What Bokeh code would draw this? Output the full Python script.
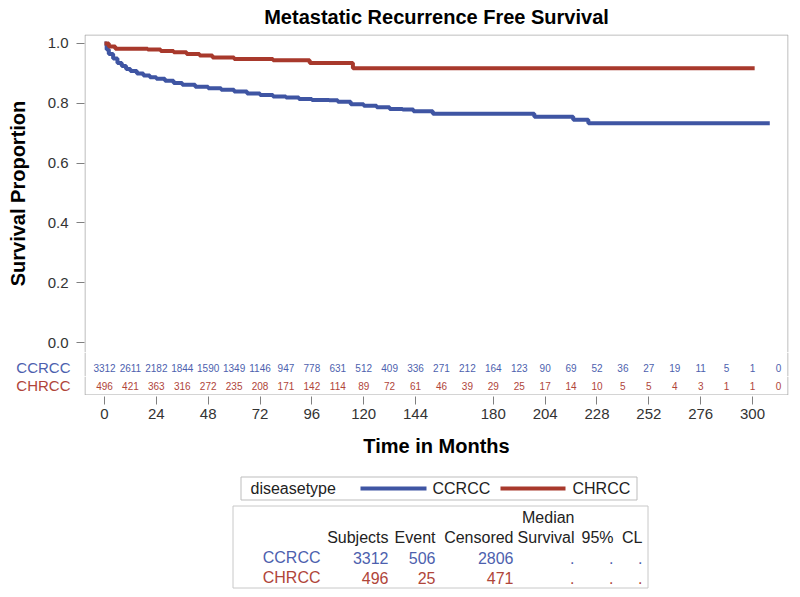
from bokeh.plotting import figure
from bokeh.models import Range1d, FixedTicker, NumeralTickFormatter
from bokeh.layouts import column
from bokeh.embed import file_html
from bokeh.resources import INLINE
from bokeh.core.properties import value

# ---------------- data ----------------
ccrcc_t = [0, 1, 2, 4, 6, 8, 10, 12, 15, 18, 21, 24, 28, 32, 36, 42, 48, 54, 60, 66,
           72, 78, 84, 90, 96, 104, 108, 114, 120, 126, 132, 138, 143, 152, 199, 217, 224, 308]
ccrcc_s = [1.0, 0.98, 0.965, 0.95, 0.935, 0.925, 0.915, 0.908, 0.90, 0.893, 0.887, 0.882,
           0.875, 0.868, 0.862, 0.855, 0.850, 0.845, 0.839, 0.833, 0.828, 0.823, 0.819,
           0.814, 0.811, 0.810, 0.805, 0.797, 0.792, 0.787, 0.781, 0.779, 0.773, 0.765,
           0.755, 0.745, 0.733, 0.733]
chrcc_t = [0, 2, 5, 20, 26, 32, 38, 44, 50, 60, 78, 95, 115, 301]
chrcc_s = [1.0, 0.99, 0.982, 0.98, 0.975, 0.971, 0.965, 0.960, 0.953, 0.948, 0.944,
           0.935, 0.917, 0.917]

risk_times = [0, 12, 24, 36, 48, 60, 72, 84, 96, 108, 120, 132, 144, 156, 168, 180,
              192, 204, 216, 228, 240, 252, 264, 276, 288, 300, 312]
ccrcc_risk = [3312, 2611, 2182, 1844, 1590, 1349, 1146, 947, 778, 631, 512, 409, 336,
              271, 212, 164, 123, 90, 69, 52, 36, 27, 19, 11, 5, 1, 0]
chrcc_risk = [496, 421, 363, 316, 272, 235, 208, 171, 142, 114, 89, 72, 61, 46, 39, 29,
              25, 17, 14, 10, 5, 5, 4, 3, 1, 1, 0]

x_ticks = [0, 24, 48, 72, 96, 120, 144, 180, 204, 228, 252, 276, 300]
y_ticks = [0.0, 0.2, 0.4, 0.6, 0.8, 1.0]

groups = ["CCRCC", "CHRCC"]
subjects = [3312, 496]
events = [506, 25]
censored = [2806, 471]
median_surv = [".", "."]
cl_low = [".", "."]
cl_high = [".", "."]

# ---------------- style / layout geometry ----------------
FONT_NAME = "Liberation Sans"
FONT = value(FONT_NAME)
BLUE = "#3F55A3"
RED = "#A8392C"
BLUE_T = "#4D5FAE"
RED_T = "#B0453A"
GRAY = "#A8A8A8"
TXT = "#222222"

W = 792
PX = 2.16          # pixels per month
X0_PX = 104        # pixel of t = 0
PY = 300.0         # pixels per unit of survival
Y0_PX = 342        # pixel of survival = 0
FRAME_L, FRAME_R, FRAME_T, FRAME_B = 84, 788, 33, 395
SPLIT = 352        # curve panel ends here
ROW_SPLIT = 376    # between the two at-risk rows
ROW1_PX, ROW2_PX = 367, 385


def t_at(px):
    return (px - X0_PX) / PX


def s_at(py):
    return (Y0_PX - py) / PY


def base_fig(height, **kw):
    f = figure(width=W, height=height, output_backend="svg", toolbar_location=None,
               min_border_left=FRAME_L, min_border_right=W - FRAME_R, **kw)
    f.outline_line_color = None
    f.xgrid.visible = False
    f.ygrid.visible = False
    return f


X_RANGE = (t_at(FRAME_L), t_at(FRAME_R))
lx, rx = t_at(FRAME_L + 0.5), t_at(FRAME_R - 0.5)

# ---------------- A: curves ----------------
pa = base_fig(SPLIT, x_axis_type=None,
              x_range=Range1d(*X_RANGE),
              y_range=Range1d(s_at(SPLIT), s_at(FRAME_T)),
              min_border_top=FRAME_T, min_border_bottom=0)
pa.title.text = "Metastatic Recurrence Free Survival"
pa.title.align = "center"
pa.title.vertical_align = "top"
pa.title.text_font = FONT_NAME
pa.title.text_font_size = "20px"
pa.title.text_font_style = "bold"
pa.title.text_color = "#000000"
pa.title.standoff = 10

ya = pa.yaxis[0]
ya.ticker = FixedTicker(ticks=y_ticks)
ya.formatter = NumeralTickFormatter(format="0.0")
ya.axis_line_color = None
ya.major_tick_line_color = "#808080"
ya.major_tick_out = 8
ya.major_tick_in = 0
ya.minor_tick_line_color = None
ya.major_label_text_font = FONT_NAME
ya.major_label_text_font_size = "15px"
ya.major_label_text_color = "#333333"
ya.major_label_standoff = 8
ya.axis_label = "Survival Proportion"
ya.axis_label_text_font = FONT_NAME
ya.axis_label_text_font_size = "20px"
ya.axis_label_text_font_style = "bold"
ya.axis_label_text_color = "#000000"
ya.axis_label_standoff = 16

ty = s_at(FRAME_T + 0.5)
pa.line([lx, lx, rx, rx], [s_at(SPLIT), ty, ty, s_at(SPLIT)], line_color=GRAY, line_width=1)

pa.step(ccrcc_t, ccrcc_s, mode="after", line_width=4, line_color=BLUE)
pa.step(chrcc_t, chrcc_s, mode="after", line_width=4, line_color=RED)


# ---------------- B: number at risk (one strip per group) ----------------
def risk_strip(top, bottom, row_px, counts, name, color, last):
    f = base_fig(bottom - top, x_axis_type=None,
                 x_range=Range1d(*X_RANGE), y_range=Range1d(bottom, top),
                 min_border_top=0, min_border_bottom=0)
    ax = f.yaxis[0]
    ax.ticker = FixedTicker(ticks=[row_px])
    ax.major_label_overrides = {row_px: name}
    ax.axis_line_color = None
    ax.major_tick_line_color = None
    ax.minor_tick_line_color = None
    ax.major_tick_out = 0
    ax.major_tick_in = 0
    ax.major_label_standoff = 14
    ax.major_label_text_font = FONT_NAME
    ax.major_label_text_font_size = "15px"
    ax.major_label_text_color = color
    f.text(x=risk_times, y=[row_px] * len(risk_times), text=[str(v) for v in counts],
           text_align="center", text_baseline="middle", text_font=FONT,
           text_font_size="10px", text_color=color)
    if last:
        yb = bottom - 0.5
        f.line([lx, lx, rx, rx], [top, yb, yb, top], line_color=GRAY, line_width=1)
    else:
        f.segment(x0=[lx, rx], y0=[top, top], x1=[lx, rx], y1=[bottom, bottom],
                  line_color=GRAY, line_width=1)
    return f


pb1 = risk_strip(SPLIT, ROW_SPLIT, ROW1_PX, ccrcc_risk, groups[0], BLUE_T, False)
pb2 = risk_strip(ROW_SPLIT, FRAME_B, ROW2_PX, chrcc_risk, groups[1], RED_T, True)

# ---------------- D: time axis ----------------
AX_H = 468 - FRAME_B
pd_ = base_fig(AX_H, y_axis_type=None,
               x_range=Range1d(*X_RANGE), y_range=Range1d(0, 1),
               min_border_top=0, min_border_bottom=AX_H - 1)
xa = pd_.xaxis[0]
xa.ticker = FixedTicker(ticks=x_ticks)
xa.axis_line_color = None
xa.major_tick_line_color = "#808080"
xa.major_tick_out = 8
xa.major_tick_in = 0
xa.minor_tick_line_color = None
xa.major_label_text_font = FONT_NAME
xa.major_label_text_font_size = "15px"
xa.major_label_text_color = "#333333"
xa.major_label_standoff = 4
xa.axis_label = "Time in Months"
xa.axis_label_text_font = FONT_NAME
xa.axis_label_text_font_size = "20px"
xa.axis_label_text_font_style = "bold"
xa.axis_label_text_color = "#000000"
xa.axis_label_standoff = 13

# ---------------- C: legend + statistics table ----------------
CH = 121
q = base_fig(CH, x_axis_type=None, y_axis_type=None,
             x_range=Range1d(FRAME_L, FRAME_R), y_range=Range1d(CH, 0),
             min_border_top=0, min_border_bottom=0)

# legend
q.quad(left=[240.5], right=[636.5], top=[8.5], bottom=[31.5], fill_color=None,
       line_color="#BDBDBD", line_width=1)
q.text(x=[250], y=[20], text=["diseasetype"], text_align="left", text_baseline="middle",
       text_font=FONT, text_font_size="16px", text_color=TXT)
q.segment(x0=[360], y0=[20], x1=[426], y1=[20], line_width=4, line_color=BLUE)
q.text(x=[432], y=[20], text=[groups[0]], text_align="left", text_baseline="middle",
       text_font=FONT, text_font_size="16px", text_color=TXT)
q.segment(x0=[500], y0=[20], x1=[565], y1=[20], line_width=4, line_color=RED)
q.text(x=[572], y=[20], text=[groups[1]], text_align="left", text_baseline="middle",
       text_font=FONT, text_font_size="16px", text_color=TXT)

# table
q.quad(left=[232.5], right=[647.5], top=[37.5], bottom=[119.5], fill_color=None,
       line_color="#C8C8C8", line_width=1)
col_x = [388, 435, 513, 574, 613, 642]
headers = ["Subjects", "Event", "Censored", "Survival", "95%", "CL"]
q.text(x=[574], y=[49], text=["Median"], text_align="right", text_baseline="middle",
       text_font=FONT, text_font_size="16px", text_color=TXT)
q.text(x=col_x, y=[69] * len(col_x), text=headers, text_align="right",
       text_baseline="middle", text_font=FONT, text_font_size="16px", text_color=TXT)
row_y = [89, 109]
row_col = [BLUE_T, RED_T]
for i in range(2):
    vals = [groups[i], str(subjects[i]), str(events[i]), str(censored[i]),
            median_surv[i], cl_low[i], cl_high[i]]
    xs = [320] + col_x
    q.text(x=xs, y=[row_y[i]] * len(xs), text=vals, text_align="right",
           text_baseline="middle", text_font=FONT, text_font_size="16px",
           text_color=row_col[i])

layout = column(pa, pb1, pb2, pd_, q, spacing=0)
open("out.html", "w").write(file_html(layout, INLINE))
